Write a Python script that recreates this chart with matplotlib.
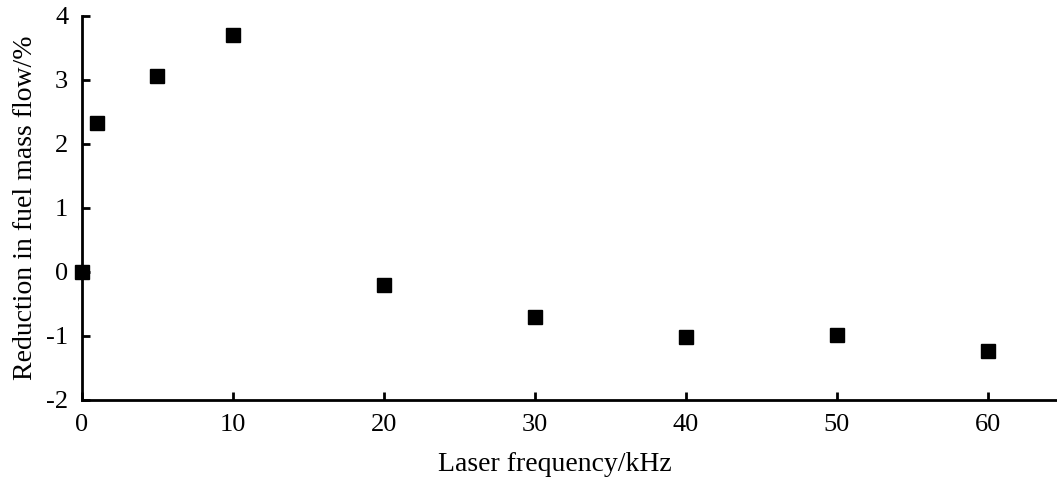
import matplotlib
matplotlib.use("Agg")
import matplotlib.pyplot as plt

# laser frequency (kHz) and reduction in fuel mass flow (%)
freq = [0, 1, 5, 10, 20, 30, 40, 50, 60]
reduction = [0.0, 2.33, 3.07, 3.70, -0.20, -0.70, -1.02, -0.98, -1.24]

xticks = [0, 10, 20, 30, 40, 50, 60]
yticks = [-2, -1, 0, 1, 2, 3, 4]

plt.rcParams['font.family'] = ['Liberation Serif', 'DejaVu Serif']
plt.rcParams['axes.unicode_minus'] = False

fig = plt.figure(figsize=(10.57, 4.79), dpi=100)
ax = fig.add_axes([0.0776, 0.165, 0.9224, 0.8016])

ax.plot(freq, reduction, linestyle='none', marker='s', markersize=10.5,
        color='black', clip_on=False, zorder=3)

ax.set_xlim(0, 64.6)
ax.set_ylim(-2, 4)
ax.set_xticks(xticks)
ax.set_yticks(yticks)
ax.tick_params(direction='in', length=6, width=2, labelsize=19)
ax.tick_params(axis='y', pad=10)
ax.tick_params(axis='x', pad=10)

for s in ['top', 'right']:
    ax.spines[s].set_visible(False)
for s in ['left', 'bottom']:
    ax.spines[s].set_linewidth(2)

ax.set_xlabel('Laser frequency/kHz', fontsize=20)
ax.xaxis.set_label_coords(0.485, -0.135)
ax.set_ylabel('Reduction in fuel mass flow/%', fontsize=20, labelpad=6)

fig.savefig('out.png', dpi=100)
